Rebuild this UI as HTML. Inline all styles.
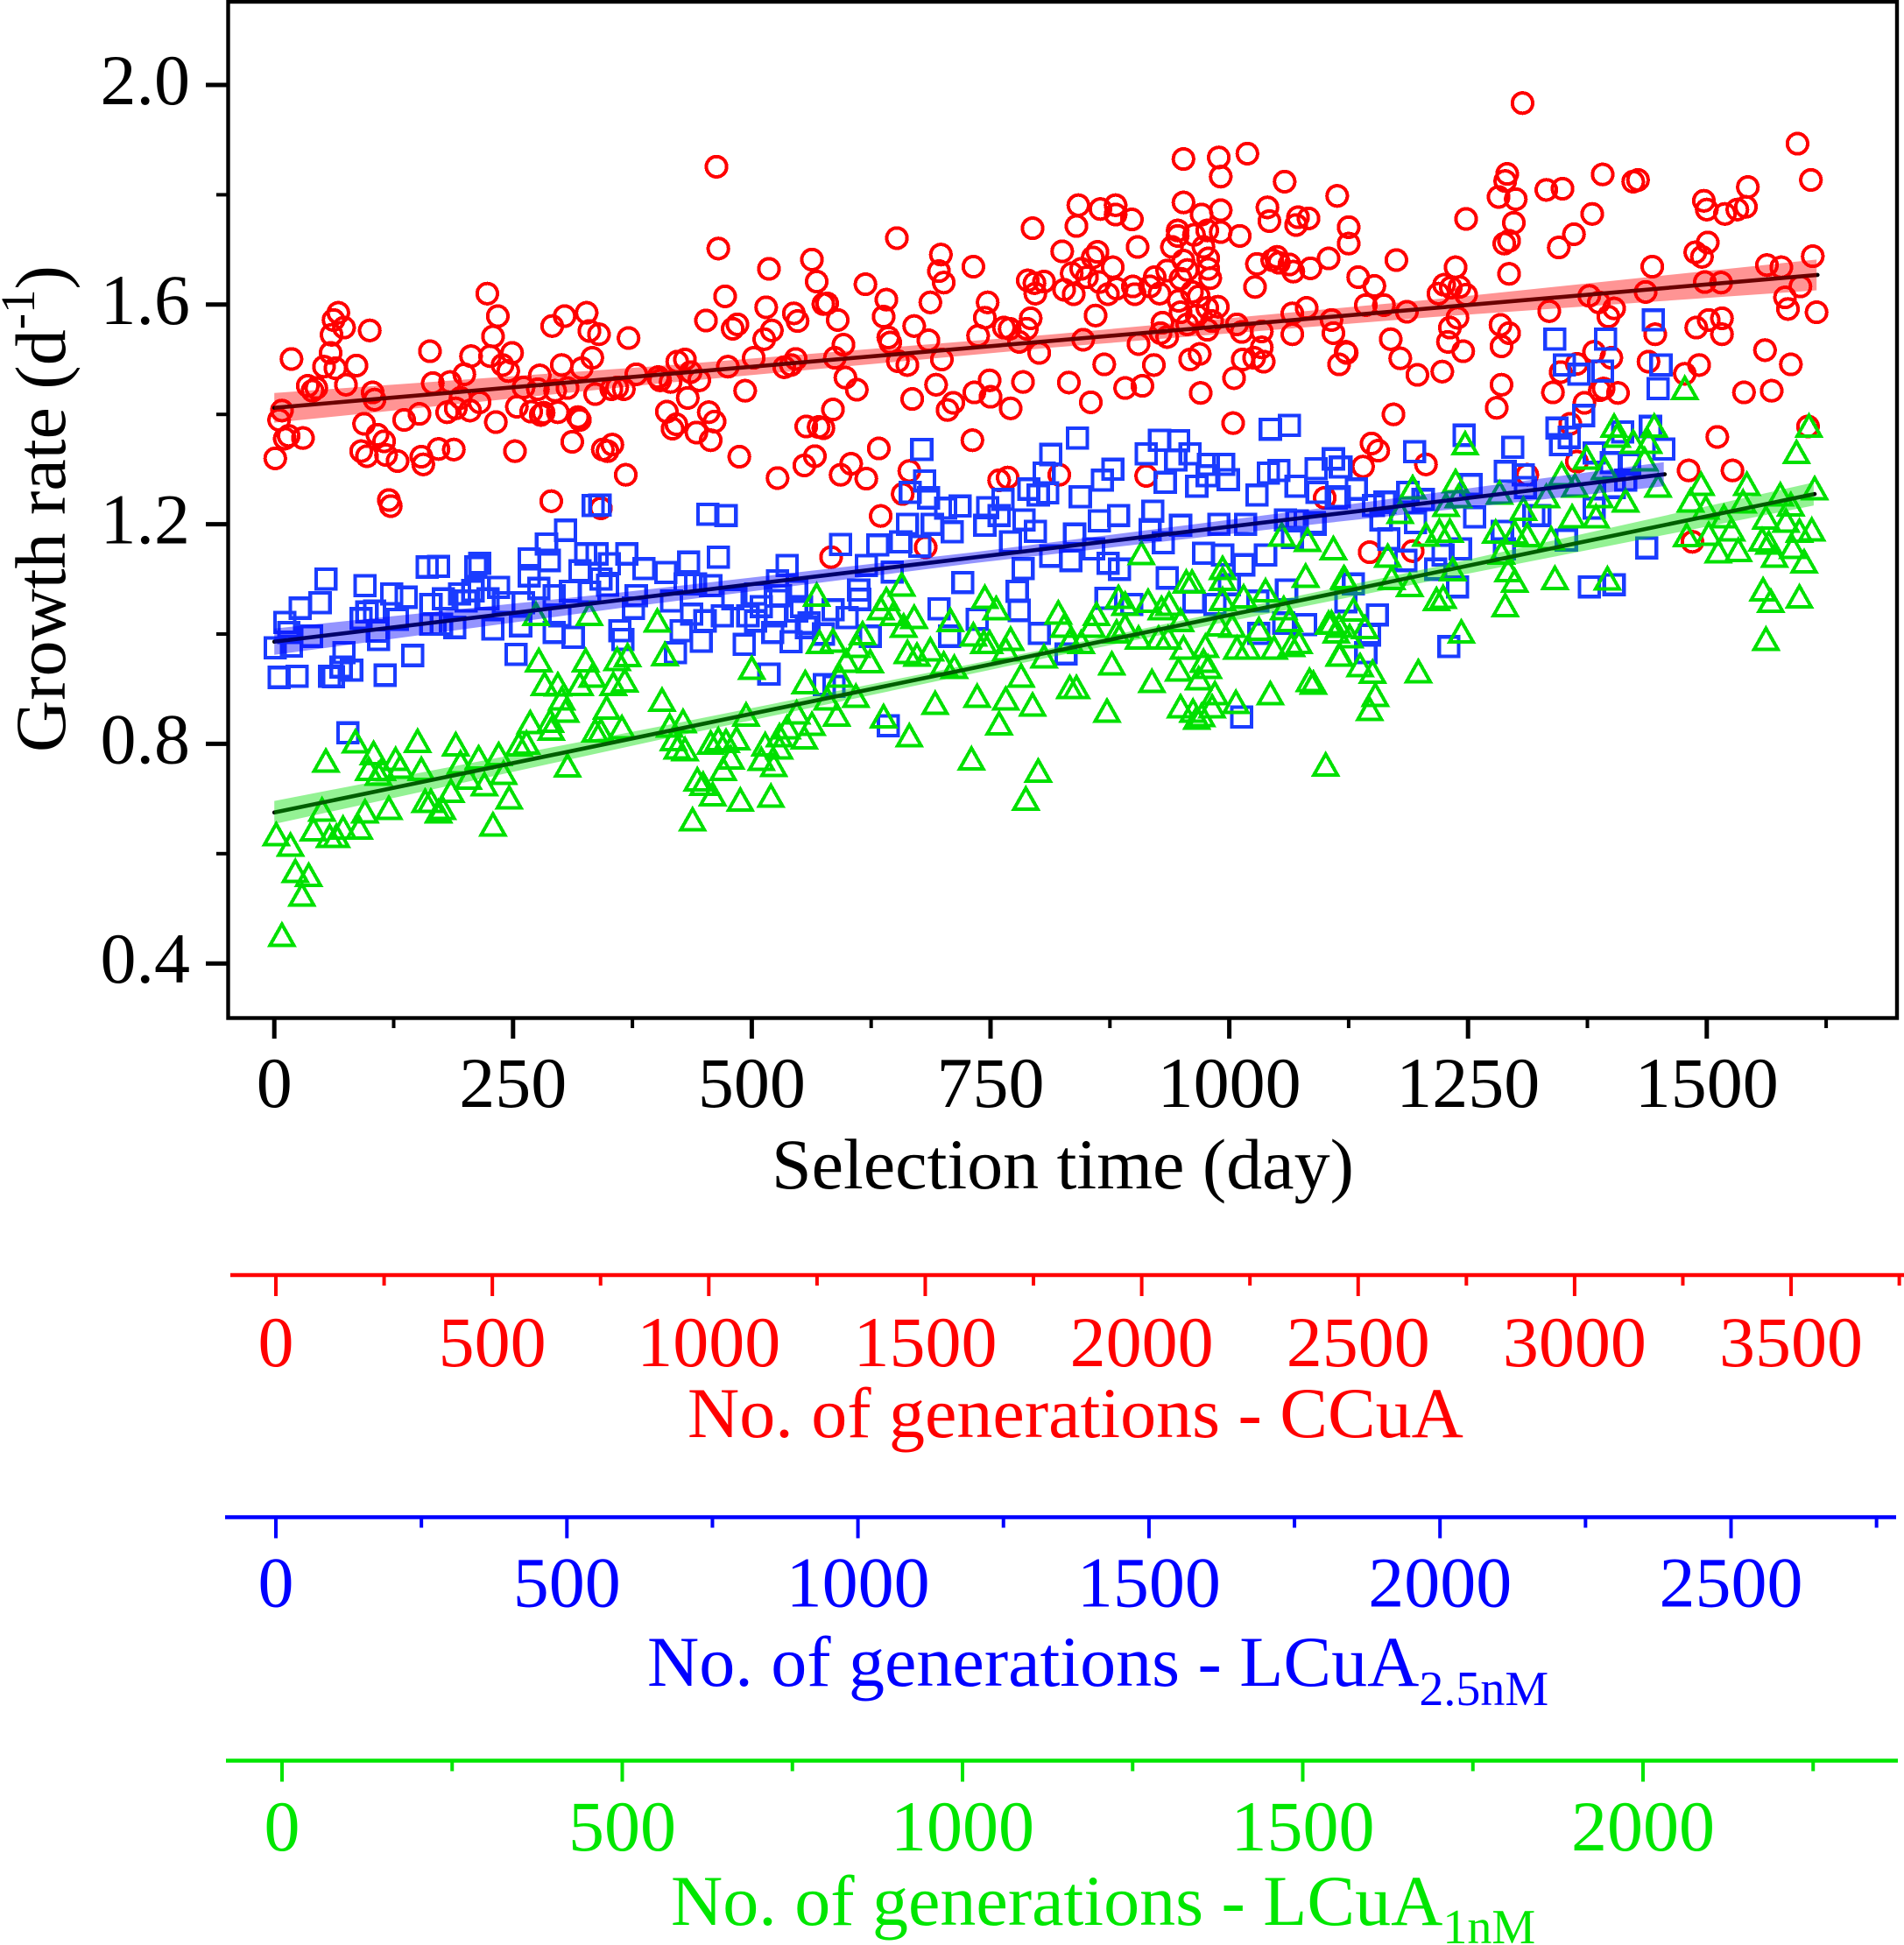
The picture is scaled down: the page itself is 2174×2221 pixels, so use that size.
<!DOCTYPE html>
<html lang="en">
<head>
<meta charset="utf-8">
<title>Growth rate vs selection time</title>
<style>
html,body{margin:0;padding:0;background:#fff;}
svg{display:block;font-family:"Liberation Serif","Times New Roman",serif;}
text{font-family:"Liberation Serif","Times New Roman",serif;}
</style>
</head>
<body>
<svg id="chart" xmlns="http://www.w3.org/2000/svg" width="2174" height="2221" viewBox="0 0 2174 2221">
  <rect x="0" y="0" width="2174" height="2221" fill="#ffffff"/>
  <g id="redLayer" shape-rendering="crispEdges"></g>
  <g id="blueLayer" shape-rendering="crispEdges"></g>
  <g id="greenLayer" shape-rendering="crispEdges"></g>
  <g id="fitLayer"></g>
  <g id="bandLayer"></g>
  <rect x="260.5" y="2" width="1905.5" height="1160.5" fill="none" stroke="#000" stroke-width="4.4"/>
  <g id="mainAxisLayer"></g>
  <text transform="translate(74,859) rotate(-90)" font-size="82" fill="#000">Growth rate (d<tspan font-size="55" dy="-35">-1</tspan><tspan dy="35">)</tspan></text>
  <text x="881" y="1357" font-size="82" fill="#000">Selection time (day)</text>
  <g id="redAxis"></g>
  <g id="blueAxis"></g>
  <g id="greenAxis"></g>
  <text x="785" y="1641" font-size="82" fill="#ff0000">No. of generations - CCuA</text>
  <text x="739" y="1925" font-size="82" fill="#0000ff">No. of generations - LCuA<tspan font-size="56" dy="22">2.5nM</tspan></text>
  <text x="766" y="2198" font-size="82" fill="#00e600">No. of generations - LCuA<tspan font-size="56" dy="21">1nM</tspan></text>
</svg>
<script>
const yMajorTicks = [0.4, 0.8, 1.2, 1.6, 2.0];
const yMajorLabels = ['0.4', '0.8', '1.2', '1.6', '2.0'];
const yMinorTicks = [0.6, 1.0, 1.4, 1.8];
const xMajorTicks = [0, 250, 500, 750, 1000, 1250, 1500];
const xMinorTicks = [125, 375, 625, 875, 1125, 1375, 1625];

const redGenMajor = [0, 500, 1000, 1500, 2000, 2500, 3000, 3500];
const redGenMinor = [250, 750, 1250, 1750, 2250, 2750, 3250, 3750];
const blueGenMajor = [0, 500, 1000, 1500, 2000, 2500];
const blueGenMinor = [250, 750, 1250, 1750, 2250, 2750];
const greenGenMajor = [0, 500, 1000, 1500, 2000];
const greenGenMinor = [250, 750, 1250, 1750, 2250];

const redFitDays = [0, 1616];
const redFitRates = [1.412, 1.654];
const blueFitDays = [0, 1456];
const blueFitRates = [0.986, 1.291];
const greenFitDays = [0, 1613];
const greenFitRates = [0.675, 1.255];

const redBandDays = [0, 405, 810, 1215, 1615];
const redBandUpper = [1.439, 1.4885, 1.545, 1.6095, 1.682];
const redBandLower = [1.385, 1.4565, 1.521, 1.5775, 1.626];
const blueBandDays = [0, 365, 730, 1095, 1455];
const blueBandUpper = [1.01, 1.076, 1.1485, 1.229, 1.313];
const blueBandLower = [0.962, 1.048, 1.1285, 1.201, 1.269];
const greenBandDays = [0, 405, 810, 1215, 1612];
const greenBandUpper = [0.696, 0.832, 0.973, 1.122, 1.276];
const greenBandLower = [0.654, 0.808, 0.957, 1.098, 1.234];

const redDays = [
1,5,8,11,15,30,18,35,40,44,
52,59,60,62,67,73,64,86,75,100,
94,103,105,108,115,91,97,117,129,154,
156,172,188,136,152,163,166,184,181,190,
205,199,215,195,206,226,229,234,223,249,
239,245,232,252,254,261,269,278,276,279,
282,297,294,301,307,320,318,312,322,333,
336,291,304,327,330,340,371,353,359,366,
379,402,404,415,422,430,436,445,433,411,
417,421,442,455,461,457,475,502,493,487,
354,344,349,368,290,120,122,342,452,480,
485,472,465,463,515,518,544,548,563,568,
575,521,513,534,541,546,557,570,566,555,
527,652,619,641,638,579,590,596,587,598,
610,585,575,643,645,670,685,653,663,699,
687,698,696,701,732,747,744,737,764,770,
780,788,792,801,847,860,794,840,842,865,
881,881,898,952,989,991,1019,1058,1113,952,
971,991,1040,1042,946,946,963,977,991,1011,
940,973,1070,1072,1083,1125,1125,1029,1045,1050,
1052,1063,1067,1085,1104,1027,904,825,862,857,
835,845,851,878,789,796,806,797,827,837,
864,873,882,899,901,922,917,927,935,949,
956,952,978,978,980,968,961,947,949,956,
966,977,988,982,930,928,935,977,1008,1013,
1034,1066,1081,1066,1107,1109,905,869,921,959,
969,1005,1014,1026,1036,1034,1115,1122,668,693,
705,711,733,749,750,771,784,832,855,891,
909,970,1004,633,604,593,620,731,665,658,
635,759,768,822,913,583,682,
1307,1595,1609,1248,1291,1289,1282,1300,1298,1293,
1288,1332,1349,1391,1423,1428,1380,1361,1345,1497,
1500,1519,1532,1541,1543,1488,1501,1495,1175,1135,
1152,1237,1225,1219,1232,1241,1248,1293,1443,1563,
1578,1611,1498,1515,1598,1377,1387,1436,1143,1162,
1186,1335,1403,1397,1582,1585,1615,1239,1231,1229,
1245,1284,1293,1285,1169,1179,1123,1197,1223,1446,
1489,1502,1516,1516,1561,1588,1382,1400,1439,1477,
1492,1347,1364,1339,1392,1388,1407,1372,1539,1568,
1285,1280,1172,1511,1149,1156,1140,1206,1481,1527,
1606,1364,1357,1312,1147,1192,1485,1100
];
const redRates = [
1.32,1.39,1.407,1.356,1.361,1.357,1.501,1.452,1.443,1.448,
1.487,1.512,1.545,1.572,1.585,1.558,1.484,1.489,1.454,1.553,
1.383,1.44,1.427,1.363,1.351,1.333,1.324,1.326,1.315,1.323,
1.309,1.337,1.336,1.39,1.401,1.515,1.457,1.459,1.404,1.411,
1.407,1.473,1.422,1.43,1.506,1.506,1.542,1.579,1.62,1.512,
1.49,1.479,1.386,1.333,1.414,1.449,1.405,1.471,1.446,1.399,
1.403,1.404,1.443,1.49,1.448,1.39,1.395,1.35,1.484,1.503,
1.437,1.561,1.579,1.585,1.552,1.546,1.539,1.446,1.449,1.446,
1.473,1.468,1.462,1.459,1.496,1.5,1.477,1.462,1.43,1.405,
1.374,1.382,1.367,1.404,1.387,1.353,1.487,1.503,1.443,1.323,
1.345,1.336,1.333,1.29,1.242,1.244,1.233,1.229,1.571,1.556,
1.564,1.615,1.702,1.851,1.595,1.665,1.584,1.57,1.682,1.642,
1.601,1.553,1.537,1.486,1.49,1.501,1.378,1.377,1.324,1.307,
1.284,1.721,1.637,1.609,1.578,1.602,1.572,1.527,1.503,1.467,
1.445,1.409,1.375,1.54,1.531,1.561,1.535,1.497,1.49,1.5,
1.604,1.691,1.661,1.64,1.669,1.604,1.576,1.543,1.558,1.556,
1.532,1.556,1.575,1.512,1.536,1.58,1.739,1.743,1.781,1.774,
1.781,1.764,1.755,1.865,1.868,1.833,1.875,1.824,1.798,1.786,
1.764,1.772,1.777,1.752,1.735,1.725,1.727,1.735,1.732,1.725,
1.705,1.705,1.745,1.759,1.757,1.741,1.711,1.674,1.681,1.687,
1.676,1.673,1.66,1.666,1.684,1.632,1.705,1.697,1.696,1.686,
1.657,1.665,1.65,1.668,1.644,1.639,1.642,1.62,1.627,1.619,
1.641,1.619,1.629,1.633,1.619,1.65,1.633,1.62,1.662,1.647,
1.663,1.68,1.684,1.665,1.648,1.615,1.623,1.607,1.586,1.564,
1.58,1.594,1.596,1.57,1.567,1.548,1.541,1.554,1.564,1.55,
1.551,1.584,1.594,1.546,1.572,1.548,1.528,1.491,1.49,1.5,
1.51,1.466,1.5,1.503,1.496,1.522,1.491,1.514,1.428,1.454,
1.408,1.421,1.44,1.462,1.432,1.411,1.459,1.458,1.422,1.448,
1.452,1.439,1.384,1.338,1.31,1.29,1.283,1.353,1.297,1.255,
1.215,1.28,1.285,1.29,1.288,1.14,1.158,
1.967,1.893,1.827,1.756,1.838,1.825,1.796,1.792,1.749,1.716,
1.711,1.809,1.811,1.837,1.824,1.827,1.765,1.728,1.704,1.789,
1.773,1.765,1.773,1.778,1.814,1.695,1.713,1.687,1.681,1.65,
1.634,1.668,1.636,1.62,1.631,1.632,1.618,1.656,1.669,1.672,
1.668,1.688,1.641,1.64,1.633,1.616,1.604,1.623,1.599,1.599,
1.587,1.588,1.593,1.578,1.613,1.592,1.586,1.576,1.558,1.532,
1.515,1.563,1.548,1.524,1.537,1.502,1.512,1.472,1.478,1.546,
1.558,1.572,1.575,1.546,1.517,1.491,1.514,1.503,1.496,1.474,
1.49,1.477,1.492,1.44,1.447,1.444,1.439,1.421,1.44,1.443,
1.454,1.412,1.4,1.359,1.347,1.334,1.305,1.309,1.298,1.298,
1.378,1.314,1.383,1.29,1.149,1.151,1.168,1.248
];

const blueDays = [
341,334,454,473,305,285,54,95,123,138,
48,27,11,15,1,18,39,5,24,58,
62,70,73,81,116,145,253,77,91,97,
105,129,109,108,160,172,211,215,164,177,
164,175,189,229,258,293,313,194,201,208,
224,235,240,261,277,267,288,267,293,310,
320,326,338,351,369,387,410,434,465,537,
349,330,342,299,379,376,362,365,416,430,
441,457,437,451,426,447,420,469,480,496,
504,492,522,541,525,504,527,547,557,547,
518,575,
678,841,813,806,681,666,685,718,703,790,
800,810,763,844,878,867,913,927,947,959,
944,933,966,978,994,999,977,1043,1063,1052,
1041,1029,1091,1109,1117,1070,1092,1115,
663,689,710,744,747,759,785,797,771,593,
632,656,676,620,647,613,585,576,784,721,
813,834,838,864,884,858,873,885,920,917,
931,935,949,973,989,993,1017,1015,1038,1066,
1089,1059,1071,696,778,780,707,624,736,801,
829,871,898,963,985,1031,1057,1080,1013,643,
586,
1341,1394,1444,1351,1366,1391,1452,1449,1371,1343,
1356,1347,1246,1194,1297,1116,1133,1112,1289,1308,
1253,1382,1400,1419,1455,1441,1412,1187,1163,1203,
1151,1415,1382,1319,1257,1159,1195,1167,1185,1242,
1224,1216,1239,1325,1286,1288,1353,1437,1377,1403,
1130,1122,1155,1147,1143,1230,1090,1403,1310,
510,530,552,560,600,612,1000,1030,1060
];
const blueRates = [
1.235,1.234,1.218,1.216,1.189,1.164,1.1,1.088,1.073,1.067,
1.057,1.047,1.021,1.003,0.975,0.978,0.996,0.921,0.923,0.923,
0.922,0.94,0.966,0.934,0.925,0.961,0.963,0.82,1.028,1.04,
1.042,1.027,0.99,1.005,1.122,1.123,1.122,1.129,1.054,1.064,
1.018,1.018,1.012,1.009,1.015,1.003,0.994,1.073,1.06,1.079,
1.064,1.085,1.057,1.057,1.083,1.137,1.134,1.106,1.07,1.078,
1.115,1.146,1.146,1.128,1.146,1.119,1.112,1.131,1.14,1.125,
1.089,1.076,1.1,1.033,1.07,1.047,1.006,0.99,1.06,1.091,
1.091,1.088,1.036,1.024,1.006,0.987,0.966,1.033,1.064,1.033,
1.024,0.981,1.003,0.986,1.033,1.073,1.097,1.079,1.012,1.042,
0.927,1.0,
1.336,1.357,1.327,1.293,1.279,1.258,1.248,1.233,1.229,1.264,
1.253,1.257,1.245,1.25,1.3,1.28,1.328,1.353,1.352,1.328,
1.317,1.276,1.269,1.309,1.309,1.281,1.288,1.373,1.38,1.298,
1.293,1.253,1.301,1.319,1.304,1.269,1.258,1.25,
1.2,1.2,1.186,1.198,1.23,1.216,1.208,1.187,1.168,1.163,
1.162,1.168,1.16,1.125,1.113,1.063,1.044,0.908,1.119,1.094,
1.142,1.134,1.182,1.206,1.216,1.155,1.129,1.118,1.224,1.19,
1.166,1.102,1.198,1.147,1.2,1.144,1.2,1.126,1.144,1.176,
1.203,1.208,1.206,1.046,1.078,1.043,0.996,0.996,1.027,1.001,
0.964,1.065,1.054,1.059,1.054,1.001,1.02,1.017,0.849,0.833,
0.905,
1.537,1.537,1.572,1.49,1.473,1.479,1.49,1.447,1.398,1.375,
1.358,1.345,1.362,1.332,1.34,1.304,1.264,1.248,1.296,1.29,
1.272,1.33,1.312,1.309,1.337,1.378,1.368,1.258,1.24,1.245,
1.234,1.28,1.229,1.216,1.213,1.208,1.203,1.173,1.134,1.155,
1.144,1.118,1.086,1.216,1.187,1.155,1.171,1.157,1.086,1.09,
1.091,1.059,1.035,0.998,0.966,0.977,1.2,1.267,1.267,
1.05,1.07,1.05,1.02,1.03,1.08,1.09,1.06,1.08
];

const greenDays = [
274,330,401,409,277,326,359,370,500,556,
568,571,283,297,320,333,355,367,301,348,
406,305,268,290,289,342,336,364,428,414,
494,547,563,484,465,457,473,418,430,422,
478,514,529,537,555,529,510,523,470,443,
449,459,488,520,438,307,246,229,264,256,
235,214,195,240,220,203,190,185,176,164,
158,172,150,154,127,132,104,113,99,109,
85,54,120,95,50,41,65,72,58,89,
2,17,22,36,29,8,
1055,1082,1109,908,993,993,961,955,1038,1080,
1120,1015,993,1057,1063,1107,1115,657,744,756,
821,884,891,915,937,949,929,861,827,856,
833,845,670,648,635,641,708,659,732,743,
749,771,766,806,616,585,610,599,624,592,
609,589,579,638,665,692,736,766,782,794,
759,730,800,787,1101,872,919,840,833,877,
978,973,947,952,968,985,1007,949,982,962,
971,966,1043,1084,1115,1019,1008,1047,1073,1065,
975,1003,1031,905,926,936,989,891,882,687,
673,701,712,663,
1247,1192,1237,1240,1179,1227,1283,1348,1374,1393,
1403,1406,1423,1439,1445,1435,1449,1388,1415,1332,
1362,1308,1607,1594,1494,1483,1542,1499,1538,1613,
1577,1588,1518,1562,1583,1610,1526,1597,1479,1502,
1512,1533,1558,1565,1590,1571,1602,1559,1567,1597,
1562,1359,1384,1312,1299,1279,1337,1285,1341,1396,
1299,1292,1289,1234,1231,1220,1206,1166,1170,1189,
1121,1109,1224,1217,1243,1198,1142,1130,1112,1104,
1126,1116,1137,1150,1153,1147,1088,1477
];
const greenRates = [
1.038,1.038,1.026,0.965,0.954,0.954,0.956,0.963,0.94,0.914,
1.073,0.987,0.911,0.91,0.911,0.926,0.911,0.917,0.884,0.868,
0.882,0.862,0.841,0.829,0.844,0.826,0.826,0.832,0.843,0.835,
0.855,0.859,0.838,0.812,0.81,0.804,0.807,0.81,0.792,0.795,
0.777,0.801,0.795,0.832,0.813,0.817,0.774,0.763,0.756,0.737,
0.729,0.71,0.7,0.707,0.664,0.762,0.704,0.655,0.804,0.801,
0.783,0.777,0.768,0.749,0.728,0.74,0.801,0.716,0.685,0.698,
0.698,0.679,0.807,0.756,0.774,0.76,0.785,0.756,0.756,0.747,
0.806,0.771,0.685,0.679,0.682,0.646,0.634,0.649,0.634,0.649,
0.637,0.618,0.57,0.563,0.527,0.454,
1.183,1.173,1.158,1.149,1.122,1.102,1.097,1.097,1.081,1.108,
1.105,1.07,1.065,1.049,1.027,1.023,1.017,1.092,1.069,1.049,
1.041,1.069,1.057,1.062,1.057,1.027,1.049,1.038,1.017,1.017,
0.99,0.987,1.033,1.038,1.049,1.065,1.027,1.017,1.001,0.987,
0.987,0.993,0.974,0.961,1.003,0.99,0.98,0.953,0.952,0.926,
0.889,0.855,0.884,0.852,0.817,0.876,0.889,0.884,0.926,0.873,
0.839,0.775,0.753,0.702,0.764,0.862,0.916,0.905,0.905,0.948,
0.942,0.953,0.937,0.977,0.921,0.894,0.878,0.87,0.87,0.862,
0.854,0.849,0.894,0.918,0.964,0.977,0.977,0.977,0.987,0.982,
0.98,1.017,1.011,0.995,0.995,0.995,1.019,1.017,1.006,0.974,
0.964,0.948,0.942,0.969,
1.349,1.269,1.28,1.253,1.224,1.237,1.259,1.293,1.323,1.304,
1.381,1.363,1.352,1.352,1.381,1.32,1.272,1.253,1.245,1.253,
1.272,1.23,1.381,1.333,1.275,1.245,1.275,1.232,1.243,1.267,
1.256,1.238,1.216,1.214,1.208,1.192,1.192,1.19,1.182,1.184,
1.152,1.155,1.174,1.168,1.16,1.144,1.134,1.083,1.062,1.07,
0.993,1.216,1.216,1.182,1.187,1.188,1.176,1.15,1.104,1.103,
1.099,1.118,1.054,1.12,1.19,1.19,1.183,1.144,1.104,1.091,
1.103,1.158,1.069,1.065,1.006,0.934,1.014,1.046,1.006,1.022,
0.998,0.964,0.945,0.933,0.891,0.865,0.913,1.45
];

const NS = 'http://www.w3.org/2000/svg';
function xScale(day) { return 313.2 + 1.0904 * day; }
function yScale(rate) { return 97 + (2 - rate) * 627; }
function xRedGen(g) { return 315 + 0.4943 * g; }
function xBlueGen(g) { return 315 + 0.6646 * g; }
function xGreenGen(g) { return 322 + 0.777 * g; }
function make(tag, parent) {
  const el = document.createElementNS(NS, tag);
  parent.appendChild(el);
  return el;
}
function tickLine(parent, x1, y1, x2, y2, color, width) {
  const el = make('line', parent);
  el.setAttribute('x1', x1);
  el.setAttribute('y1', y1);
  el.setAttribute('x2', x2);
  el.setAttribute('y2', y2);
  el.setAttribute('stroke', color);
  el.setAttribute('stroke-width', width);
  
  
  return el;
}
function tickText(parent, x, y, str, color, anchor) {
  const el = make('text', parent);
  el.setAttribute('x', x);
  el.setAttribute('y', y);
  el.setAttribute('font-size', '82');
  el.setAttribute('fill', color);
  el.setAttribute('text-anchor', anchor);
  el.textContent = str;
  
  
  return el;
}

const redLayer = document.getElementById('redLayer');
const redCount = Math.min(redDays.length, redRates.length);
for (let i = 0; i < redCount; i++) {
  const c = make('circle', redLayer);
  c.setAttribute('cx', xScale(redDays[i]).toFixed(1));
  c.setAttribute('cy', yScale(redRates[i]).toFixed(1));
  c.setAttribute('r', '11.6');
  c.setAttribute('fill', 'none');
  c.setAttribute('stroke', '#ff0000');
  c.setAttribute('stroke-width', '4');
  
  
}

const blueLayer = document.getElementById('blueLayer');
const blueCount = Math.min(blueDays.length, blueRates.length);
for (let i = 0; i < blueCount; i++) {
  const s = make('rect', blueLayer);
  s.setAttribute('x', (xScale(blueDays[i]) - 11.2).toFixed(1));
  s.setAttribute('y', (yScale(blueRates[i]) - 11.2).toFixed(1));
  s.setAttribute('width', '22.4');
  s.setAttribute('height', '22.4');
  s.setAttribute('fill', 'none');
  s.setAttribute('stroke', '#1a3cff');
  s.setAttribute('stroke-width', '4.2');
  
  
}

const greenLayer = document.getElementById('greenLayer');
const greenCount = Math.min(greenDays.length, greenRates.length);
for (let i = 0; i < greenCount; i++) {
  const cx = xScale(greenDays[i]);
  const cy = yScale(greenRates[i]);
  const t = make('polygon', greenLayer);
  t.setAttribute('points', cx.toFixed(1) + ',' + (cy - 10.9).toFixed(1) + ' ' + (cx - 13.5).toFixed(1) + ',' + (cy + 13).toFixed(1) + ' ' + (cx + 13.5).toFixed(1) + ',' + (cy + 13).toFixed(1));
  t.setAttribute('fill', 'none');
  t.setAttribute('stroke', '#00e000');
  t.setAttribute('stroke-width', '4');
  t.setAttribute('stroke-miterlimit', '10');
  
  
}

const fitLayer = document.getElementById('fitLayer');
function drawFit(days, rates) {
  const l = make('line', fitLayer);
  l.setAttribute('x1', xScale(days[0]));
  l.setAttribute('y1', yScale(rates[0]));
  l.setAttribute('x2', xScale(days[1]));
  l.setAttribute('y2', yScale(rates[1]));
  l.setAttribute('stroke', '#000');
  l.setAttribute('stroke-width', '4.6');
  l.setAttribute('stroke-linecap', 'round');
  
  
}
drawFit(redFitDays, redFitRates);
drawFit(blueFitDays, blueFitRates);
drawFit(greenFitDays, greenFitRates);

const bandLayer = document.getElementById('bandLayer');
function drawBand(days, upper, lower, color) {
  const pts = [];
  for (let i = 0; i < days.length; i++) pts.push(xScale(days[i]).toFixed(1) + ',' + yScale(upper[i]).toFixed(1));
  for (let i = days.length - 1; i >= 0; i--) pts.push(xScale(days[i]).toFixed(1) + ',' + yScale(lower[i]).toFixed(1));
  const p = make('polygon', bandLayer);
  p.setAttribute('points', pts.join(' '));
  p.setAttribute('fill', color);
  p.setAttribute('fill-opacity', '0.42');
  
  
}
drawBand(redBandDays, redBandUpper, redBandLower, '#ff0000');
drawBand(blueBandDays, blueBandUpper, blueBandLower, '#0000ff');
drawBand(greenBandDays, greenBandUpper, greenBandLower, '#00e000');

const mainAxis = document.getElementById('mainAxisLayer');
yMajorTicks.forEach(function (v, i) {
  tickLine(mainAxis, 235, yScale(v), 260, yScale(v), '#000', 5);
  tickText(mainAxis, 217, yScale(v) + 22, yMajorLabels[i], '#000', 'end');
});
yMinorTicks.forEach(function (v) {
  tickLine(mainAxis, 247, yScale(v), 260, yScale(v), '#000', 4);
});
xMajorTicks.forEach(function (d) {
  tickLine(mainAxis, xScale(d), 1162, xScale(d), 1186, '#000', 5);
  tickText(mainAxis, xScale(d), 1264, String(d), '#000', 'middle');
});
xMinorTicks.forEach(function (d) {
  tickLine(mainAxis, xScale(d), 1162, xScale(d), 1174, '#000', 4);
});

function drawGenAxis(id, scale, majors, minors, lineY, x1, x2, baseline, color) {
  const g = document.getElementById(id);
  const base = make('line', g);
  base.setAttribute('x1', x1);
  base.setAttribute('y1', lineY);
  base.setAttribute('x2', x2);
  base.setAttribute('y2', lineY);
  base.setAttribute('stroke', color);
  base.setAttribute('stroke-width', '4.6');
  
  
  majors.forEach(function (v) {
    tickLine(g, scale(v), lineY, scale(v), lineY + 24, color, 4);
    tickText(g, scale(v), baseline, String(v), color, 'middle');
  });
  minors.forEach(function (v) {
    tickLine(g, scale(v), lineY, scale(v), lineY + 12, color, 4);
  });
}
drawGenAxis('redAxis', xRedGen, redGenMajor, redGenMinor, 1456, 263, 2174, 1560, '#ff0000');
drawGenAxis('blueAxis', xBlueGen, blueGenMajor, blueGenMinor, 1732.5, 257, 2165, 1834.5, '#0000ff');
drawGenAxis('greenAxis', xGreenGen, greenGenMajor, greenGenMinor, 2010.5, 258, 2167, 2113, '#00e600');
</script>
</body>
</html>
